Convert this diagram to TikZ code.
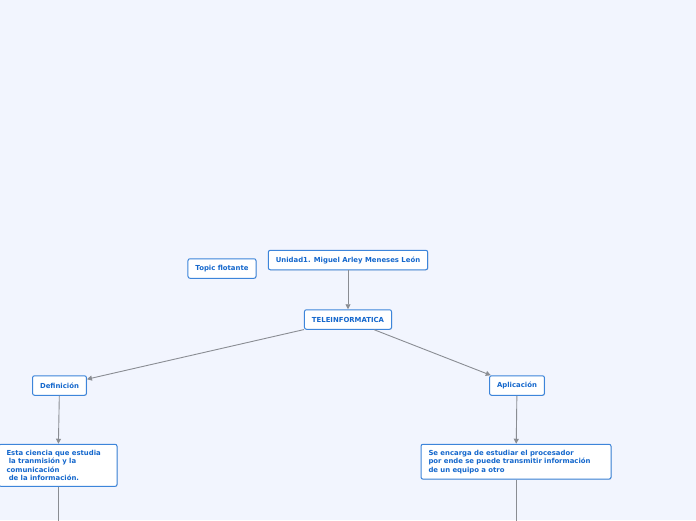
\documentclass[tikz,border=0pt]{standalone}
\usepackage{fontspec}
\setmainfont{DejaVu Sans}
\usetikzlibrary{positioning,arrows.meta,shadows}
\definecolor{mapbg}{HTML}{F2F5FE}
\definecolor{topicline}{HTML}{3D85DA}
\definecolor{topictext}{HTML}{1467CC}
\definecolor{linkgray}{HTML}{8A8D93}

\begin{document}
\begin{tikzpicture}[
    x=1pt, y=1pt,
    topic/.style={draw=topicline, fill=white, rounded corners=2pt, line width=1pt,
      text=topictext, font=\fontsize{6.9}{8.6}\selectfont\bfseries,
      minimum height=19.5pt, inner xsep=7.5pt,
      drop shadow={shadow xshift=0.6pt, shadow yshift=-0.6pt, opacity=0.25}},
    textbox/.style={topic, align=left, inner ysep=5.5pt},
    link/.style={draw=linkgray, line width=0.9pt, -{Triangle[length=5pt,width=5pt]}},
    plain/.style={draw=linkgray, line width=0.9pt}]
    % background
    \fill[mapbg] (0,0) rectangle (696,-520);
    \useasboundingbox (0,0) rectangle (696,-520);

    % NODES
    % central topic
    \node[topic] (tele) at (348,-319.5) {TELEINFORMATICA};
    % title
    \node[topic, above=39pt of tele] (unidad) {Unidad1. Miguel Arley Meneses León};
    % floating topic
    \node[topic] (flot) at (222,-268.5) {Topic flotante};
    % main branches
    \node[topic] (def) at (59.5,-385.5) {Definición};
    \node[topic] (apl) at (517,-385.5) {Aplicación};
    % subtopics
    \node[textbox, text width=103pt, below=48pt of def, xshift=-1.5pt] (defText)
      {Esta ciencia que estudia\\ \ la tranmisión y la\\comunicación\\ \ de la información.};
    \node[textbox, text width=175pt, below=48pt of apl, xshift=-1pt] (aplText)
      {Se encarga de estudiar el procesador\\por ende se puede transmitir información\\de un equipo a otro};
    % free ends below the page
    \coordinate (defEnd) at (defText.south |- 0,-530);
    \coordinate (aplEnd) at (aplText.south |- 0,-530);

    % ARROWS
    \draw[link] (unidad)--(tele);
    \draw[link] (tele)--(def);
    \draw[link] (tele)--(apl);
    \draw[link] (def)--(defText);
    \draw[link] (apl)--(aplText);
    \draw[plain] (defText)--(defEnd);
    \draw[plain] (aplText)--(aplEnd);
\end{tikzpicture}
\end{document}
